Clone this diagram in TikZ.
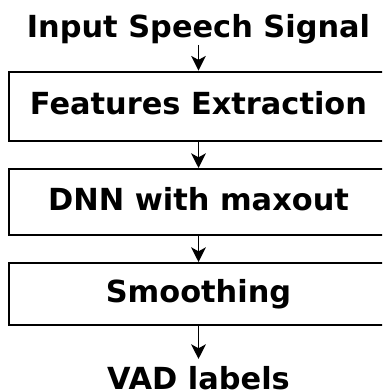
\documentclass[tikz,border=0pt]{standalone}
\usepackage{fontspec}
\setmainfont{DejaVu Sans}
\usetikzlibrary{arrows.meta}

\tikzset{
    stage/.style={draw, line width=1.5pt, minimum width=284pt, inner sep=0pt,
        text height=16.6pt, text depth=4pt},
    endtext/.style={inner sep=0pt, anchor=base},
    flow/.style={-{Stealth[length=11pt, width=11pt, inset=3pt]}, line width=1.4pt},
}

\begin{document}
\begin{tikzpicture}[x=0.75pt, y=-0.75pt, font=\fontsize{22.8}{27}\selectfont\bfseries]
    \useasboundingbox (0,0) rectangle (382,391);
    \clip (0,0) rectangle (382,391);
    \node[endtext] (input) at (198.5,38) {Input Speech Signal};
    \node[stage, minimum height=52pt] (features) at (198.5,106.25) {Features Extraction};
    \node[stage, minimum height=49.5pt] (dnn) at (198.5,202) {DNN with maxout};
    \node[stage, minimum height=46.5pt] (smooth) at (198.5,294) {Smoothing};
    \node[endtext] (vad) at (198.5,389) {VAD labels};
    \draw[flow] (input) -- (features);
    \draw[flow] (features) -- (dnn);
    \draw[flow] (dnn) -- (smooth);
    \draw[flow, shorten >=5pt] (smooth) -- (vad);
\end{tikzpicture}
\end{document}
